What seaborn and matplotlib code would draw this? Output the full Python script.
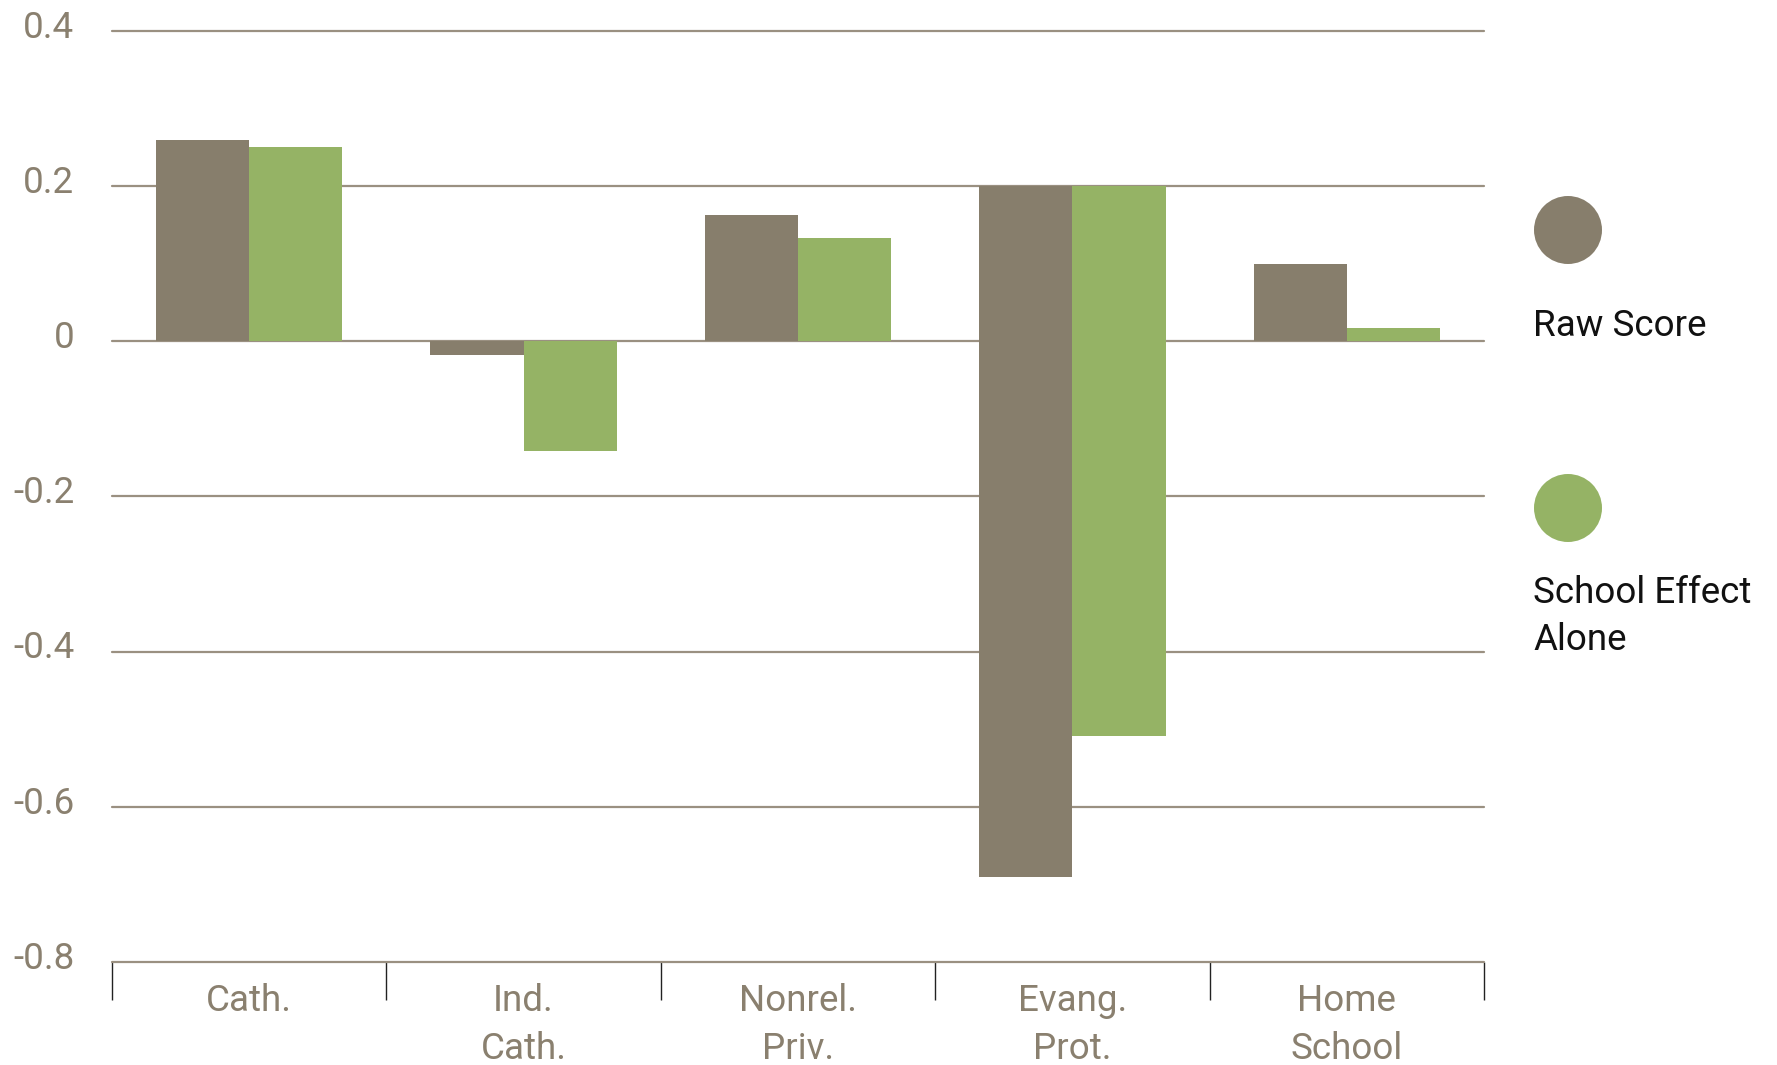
import matplotlib
matplotlib.use("Agg")
import matplotlib.pyplot as plt
import matplotlib.transforms as mtransforms
import seaborn as sns
import pandas as pd
import numpy as np

categories = ["Cath.", "Ind.\nCath.", "Nonrel.\nPriv.", "Evang.\nProt.", "Home\nSchool"]
raw_score = [0.259, -0.018, 0.162, -0.69, 0.099]
school_effect = [0.250, -0.142, 0.133, -0.509, 0.017]
# In the reference the Evang. Prot. bars are drawn starting from 0.2 instead of 0
bar_start = [0.0, 0.0, 0.0, 0.2, 0.0]
series_names = ["Raw Score", "School Effect\nAlone"]
y_ticks = [-0.8, -0.6, -0.4, -0.2, 0.0, 0.2, 0.4]
y_tick_labels = ["-0.8", "-0.6", "-0.4", "-0.2", "0", "0.2", "0.4"]

grey = "#877E6C"
green = "#95B365"
tick_col = "#8A806F"
grid_col = "#9A9081"

df = pd.DataFrame({
    "category": categories * 2,
    "value": raw_score + school_effect,
    "series": [series_names[0]] * 5 + [series_names[1]] * 5,
})

sns.set_theme(style="white")
plt.rcParams["font.family"] = ["Roboto", "DejaVu Sans"]

fig = plt.figure(figsize=(17.77, 10.65), dpi=100)
ax = fig.add_axes([112 / 1777, 1 - 962 / 1065, (1484 - 112) / 1777, (962 - 30.5) / 1065])

sns.barplot(data=df, x="category", y="value", hue="series", order=categories,
            hue_order=series_names, palette=[grey, green], width=0.68,
            saturation=1, errorbar=None, legend=False, ax=ax, zorder=3,
            linewidth=0)

# extend bars to their start value
for cont in ax.containers:
    for i, bar in enumerate(cont):
        start = bar_start[i]
        if start != 0:
            val = bar.get_y() + bar.get_height()
            bar.set_y(start)
            bar.set_height(val - start)

ax.set_xlim(-0.5, len(categories) - 0.5)
ax.set_ylim(-0.8, 0.4)
ax.set_yticks(y_ticks)
ax.set_yticklabels(y_tick_labels)
ax.set_xlabel("")
ax.set_ylabel("")
for s in ax.spines.values():
    s.set_visible(False)

for yv in y_ticks:
    ax.axhline(yv, color=grid_col, lw=1.6, zorder=1, clip_on=False)

fs = 26.5
ax.tick_params(axis="y", length=0, pad=27, labelsize=fs, labelcolor=tick_col)
ax.tick_params(axis="x", which="major", length=0, pad=15, labelsize=fs, labelcolor=tick_col)
for lab in ax.get_xticklabels():
    lab.set_linespacing(1.45)
ax.set_xticks(np.arange(-0.5, len(categories), 1.0), minor=True)
ax.tick_params(axis="x", which="minor", length=27, width=1.0, color="#222222", direction="out", bottom=True)

offset = mtransforms.ScaledTranslation(0, 7 / 100, fig.dpi_scale_trans)
for lab in ax.get_yticklabels():
    lab.set_transform(lab.get_transform() + offset)

# custom legend
legend_y = [1 - 230 / 1065, 1 - 508 / 1065]
text_y = [1 - 308 / 1065, 1 - 575 / 1065]
for col, name, cy, ty in zip([grey, green], series_names, legend_y, text_y):
    fig.add_artist(matplotlib.patches.Ellipse((1568 / 1777, cy), 68 / 1777, 68 / 1065,
                                              transform=fig.transFigure, color=col, lw=0))
    fig.text(1533 / 1777, ty, name, fontsize=fs, color="#111111", ha="left", va="top",
             linespacing=1.4)

fig.savefig("out.png", dpi=100)
